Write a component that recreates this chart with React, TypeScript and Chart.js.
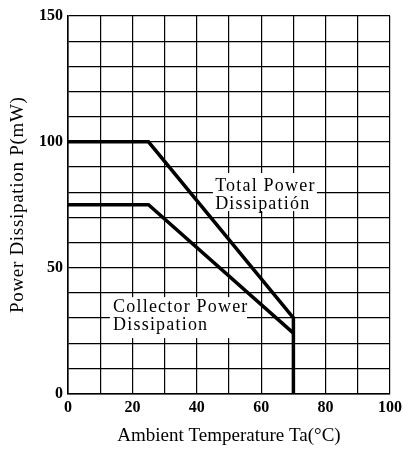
import React, { useEffect, useRef } from 'react';
import { Chart, registerables } from 'chart.js';

Chart.register(...registerables);

// ---- data ----
const totalX = [0, 25, 70, 70];
const totalY = [100, 100, 30, 0];
const collectorX = [0, 25, 70];
const collectorY = [75, 75, 24];
const xTickLabels = [0, 20, 40, 60, 80, 100];
const yTickLabels = [0, 50, 100, 150];
const xTitle = 'Ambient Temperature Ta(°C)';
const yTitle = 'Power Dissipation P(mW)';
const totalLabel = ['Total Power', 'Dissipatión'];
const collectorLabel = ['Collector Power', 'Dissipation'];

const SERIF = '"Liberation Serif", "Times New Roman", serif';

const labelsPlugin = {
  id: 'curveLabels',
  beforeDatasetsDraw(chart: any) {
    const { ctx } = chart;
    const x = chart.scales.x;
    const y = chart.scales.y;
    const boxes = [
      { x0: 45, x1: 77.3, y0: 87.6, y1: 72.5, tx: 45.7, ty: 80.5, lines: totalLabel },
      { x0: 13, x1: 55.6, y0: 38.3, y1: 22, tx: 14, ty: 32.4, lines: collectorLabel },
    ];
    ctx.save();
    for (const b of boxes) {
      const l = x.getPixelForValue(b.x0);
      const r = x.getPixelForValue(b.x1);
      const t = y.getPixelForValue(b.y0);
      const bt = y.getPixelForValue(b.y1);
      ctx.fillStyle = '#fff';
      ctx.fillRect(l, t, r - l, bt - t);
      ctx.fillStyle = '#000';
      ctx.font = `18px ${SERIF}`;
      (ctx as any).letterSpacing = '1.2px';
      ctx.textAlign = 'left';
      ctx.textBaseline = 'alphabetic';
      b.lines.forEach((s: string, i: number) => {
        ctx.fillText(s, x.getPixelForValue(b.tx), y.getPixelForValue(b.ty) + i * 18);
      });
    }
    (ctx as any).letterSpacing = '0px';
    ctx.restore();
  },
  afterDraw(chart: any) {
    const { ctx, chartArea } = chart;
    ctx.save();
    ctx.fillStyle = '#000';
    ctx.font = `19px ${SERIF}`;
    ctx.textAlign = 'center';
    ctx.textBaseline = 'alphabetic';
    ctx.fillText(xTitle, (chartArea.left + chartArea.right) / 2, 441);
    ctx.translate(18, (chartArea.top + chartArea.bottom) / 2);
    ctx.rotate(-Math.PI / 2);
    (ctx as any).letterSpacing = '0.7px';
    ctx.textBaseline = 'middle';
    ctx.fillText(yTitle, 0, 0);
    (ctx as any).letterSpacing = '0px';
    ctx.restore();
  },
};

export default function App() {
  const ref = useRef<HTMLCanvasElement | null>(null);

  useEffect(() => {
    if (!ref.current) return;
    const chart = new Chart(ref.current, {
      type: 'scatter',
      data: {
        datasets: [
          {
            label: 'Total Power Dissipation',
            data: totalX.map((v, i) => ({ x: v, y: totalY[i] })),
            showLine: true,
            borderColor: '#000',
            borderWidth: 3.5,
            pointRadius: 0,
            tension: 0,
          },
          {
            label: 'Collector Power Dissipation',
            data: collectorX.map((v, i) => ({ x: v, y: collectorY[i] })),
            showLine: true,
            borderColor: '#000',
            borderWidth: 3.5,
            pointRadius: 0,
            tension: 0,
          },
        ],
      },
      options: {
        responsive: false,
        animation: false,
        layout: { padding: { left: 0, right: 13, top: 16, bottom: 0 } },
        plugins: {
          legend: { display: false },
          tooltip: { enabled: false },
          title: { display: false },
        },
        scales: {
          x: {
            type: 'linear',
            min: 0,
            max: 100,
            afterFit: (s: any) => {
              s.height = 58.5;
              s.paddingRight = 0;
            },
            ticks: {
              stepSize: 10,
              autoSkip: false,
              maxRotation: 0,
              color: '#000',
              padding: 5,
              font: { family: SERIF, size: 16, weight: 'bold' },
              callback: (v: any) => (xTickLabels.includes(Number(v)) ? String(v) : ''),
            },
            grid: { color: '#000', lineWidth: 1.2, drawTicks: false },
            border: { color: '#000', width: 1.6 },
          },
          y: {
            type: 'linear',
            min: 0,
            max: 150,
            afterFit: (s: any) => {
              s.width = 68;
            },
            ticks: {
              stepSize: 10,
              autoSkip: false,
              color: '#000',
              padding: 5,
              font: { family: SERIF, size: 16, weight: 'bold' },
              callback: (v: any) => (yTickLabels.includes(Number(v)) ? String(v) : ''),
            },
            grid: { color: '#000', lineWidth: 1.2, drawTicks: false },
            border: { color: '#000', width: 1.6 },
          },
        },
      },
      plugins: [labelsPlugin],
    } as any);
    return () => chart.destroy();
  }, []);

  return (
    <div style={{ position: 'absolute', left: 0, top: 0, width: 403, height: 452, background: '#fff' }}>
      <canvas ref={ref} width={403} height={452} />
    </div>
  );
}
